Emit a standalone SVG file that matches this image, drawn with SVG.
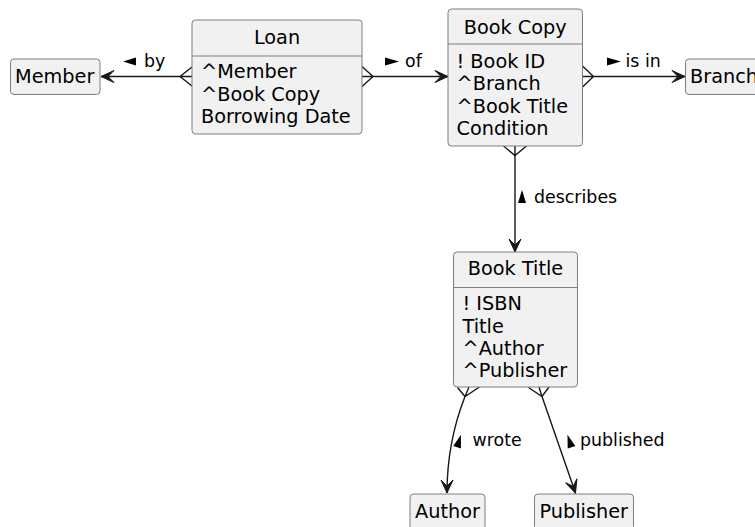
<svg xmlns="http://www.w3.org/2000/svg" xmlns:xlink="http://www.w3.org/1999/xlink" width="755" height="527" viewBox="0 0 755 527">
<style>
.box{fill:#F1F1F1;stroke:#7d7d7d;stroke-width:1}
.div{stroke:#7d7d7d;stroke-width:1}
.t{font-family:"DejaVu Sans",sans-serif;font-size:19.3px;fill:#000}
.c{text-anchor:middle}
.lbl{font-family:"DejaVu Sans",sans-serif;font-size:17.4px;fill:#000}
.ln{fill:none;stroke:#181818;stroke-width:1.4}
.ah{fill:#181818;stroke:#181818;stroke-width:1}
.tri{fill:#000}
</style>
<defs>
<path id="ah" d="M0,0 L-13,-6 L-7,0 L-13,6 Z"/>
<path id="up" d="M0,-6.5 L4,6.5 L-4,6.5 Z"/>
</defs>
<rect width="755" height="527" fill="#FFFFFF"/>
<g id="connectors">
  <!-- Loan -> Member -->
  <path class="ln" d="M192,76.5 L101,76.5 M192,67 L180,76.5 L192,86"/>
  <use href="#ah" class="ah" transform="translate(101,76.5) rotate(180)"/>
  <polygon class="tri" points="123,61.5 136,57.5 136,65.5"/>
  <text class="lbl" x="144" y="66.5">by</text>
  <!-- Loan -> Book Copy -->
  <path class="ln" d="M362,76.5 L448,76.5 M362,66.5 L373,76.5 L362,86.5"/>
  <use href="#ah" class="ah" transform="translate(448,76.5)"/>
  <polygon class="tri" points="385,57.5 385,65.5 399,61.5"/>
  <text class="lbl" x="405" y="66.5">of</text>
  <!-- Book Copy -> Branch -->
  <path class="ln" d="M582.5,76.5 L685,76.5 M582.5,66 L593.5,76.5 L582.5,87"/>
  <use href="#ah" class="ah" transform="translate(685,76.5)"/>
  <polygon class="tri" points="607,57.5 607,65.5 621,61.5"/>
  <text class="lbl" x="625.5" y="66.5">is in</text>
  <!-- Book Copy -> Book Title -->
  <path class="ln" d="M515,146 L515,252 M503.5,146 L515,155.5 L526.5,146"/>
  <use href="#ah" class="ah" transform="translate(515,252) rotate(90)"/>
  <use href="#up" class="tri" transform="translate(522,196.5)"/>
  <text class="lbl" x="534" y="203">describes</text>
  <!-- Book Title -> Author -->
  <path class="ln" d="M469,387 L465,396.5 C455,422 447,452 447,493 M457.5,387.5 L465,396.5 L479.5,387"/>
  <use href="#ah" class="ah" transform="translate(447,493) rotate(90)"/>
  <use href="#up" class="tri" transform="translate(459,441) rotate(17)"/>
  <text class="lbl" x="472.5" y="446">wrote</text>
  <!-- Book Title -> Publisher -->
  <path class="ln" d="M539,387 L542,396.5 L575.5,493 M528.5,387.5 L542,396.5 L549,387"/>
  <use href="#ah" class="ah" transform="translate(575.5,493) rotate(71)"/>
  <use href="#up" class="tri" transform="translate(569.5,441) rotate(-18)"/>
  <text class="lbl" x="580" y="446">published</text>
</g>
<g id="member">
  <rect class="box" x="10.5" y="59" width="89.5" height="35.5" rx="3.5"/>
  <text class="t" x="15" y="82.5">Member</text>
</g>
<g id="loan">
  <rect class="box" x="192" y="20" width="170" height="114" rx="3.5"/>
  <line class="div" x1="192" y1="56" x2="362" y2="56"/>
  <text class="t c" x="277" y="44">Loan</text>
  <text class="t" x="201" y="78">^Member</text>
  <text class="t" x="201" y="100.5">^Book Copy</text>
  <text class="t" x="201" y="123">Borrowing Date</text>
</g>
<g id="bookcopy">
  <rect class="box" x="448" y="9" width="134.5" height="137" rx="3.5"/>
  <line class="div" x1="448" y1="44" x2="582.5" y2="44"/>
  <text class="t c" x="515.25" y="33.5">Book Copy</text>
  <text class="t" x="456.5" y="67.5">! Book ID</text>
  <text class="t" x="456.5" y="90">^Branch</text>
  <text class="t" x="456.5" y="112.5">^Book Title</text>
  <text class="t" x="456.5" y="135">Condition</text>
</g>
<g id="branch">
  <rect class="box" x="685.5" y="59" width="85" height="35.5" rx="3.5"/>
  <text class="t" x="690" y="82.5">Branch</text>
</g>
<g id="booktitle">
  <rect class="box" x="453.5" y="252" width="124" height="135" rx="3.5"/>
  <line class="div" x1="453.5" y1="287.5" x2="577.5" y2="287.5"/>
  <text class="t c" x="515.5" y="275">Book Title</text>
  <text class="t" x="462.5" y="310">! ISBN</text>
  <text class="t" x="462.5" y="332.5">Title</text>
  <text class="t" x="462.5" y="355">^Author</text>
  <text class="t" x="462.5" y="377">^Publisher</text>
</g>
<g id="author">
  <rect class="box" x="410" y="494" width="75" height="36" rx="3.5"/>
  <text class="t" x="415" y="517.5">Author</text>
</g>
<g id="publisher">
  <rect class="box" x="534.5" y="494" width="99" height="36" rx="3.5"/>
  <text class="t" x="539.5" y="517.5">Publisher</text>
</g>
</svg>
